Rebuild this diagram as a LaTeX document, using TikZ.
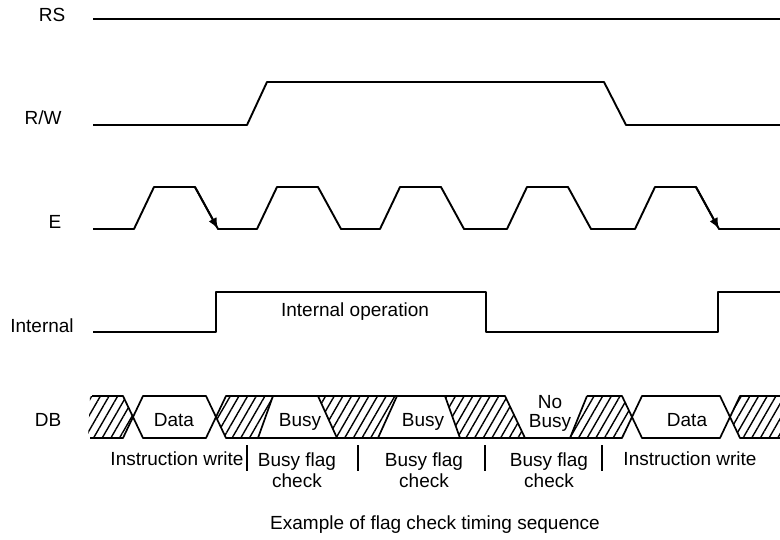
\documentclass[tikz,border=0pt]{standalone}
\usepackage{fontspec}
\setmainfont{Liberation Sans}
\usetikzlibrary{arrows.meta,patterns.meta}
\tikzset{
  sigln/.style={line width=1.9pt, line join=round},
  busln/.style={line width=1.7pt, line join=round},
  hatchfill/.style={pattern={Lines[angle=60,distance=7.5pt,line width=1.4pt]}},
  lbl/.style={font=\fontsize{19}{21}\selectfont, inner sep=0pt},
  sepbar/.style={line width=1.3pt},
  edgearr/.style={-{Latex[length=11pt,width=9pt]}, line width=1.9pt},
}
\newcommand{\hatchcell}[1]{%
  \fill[hatchfill] #1;
}

\begin{document}
\begin{tikzpicture}[x=1pt,y=-1pt]
    \useasboundingbox (0,0) rectangle (780,540);
    % signal names
    \node[lbl, anchor=base] (rs) at (52,22) {RS};
    \node[lbl, anchor=base] (rw) at (43,125) {R/W};
    \node[lbl, anchor=base] (en) at (55,229) {E};
    \node[lbl, anchor=base] (intl) at (42,333) {Internal};
    \node[lbl, anchor=base] (db) at (48,426) {DB};
    % RS and R/W
    \draw[sigln] (93,19) -- (780,19);
    \draw[sigln] (93,125) -- (247,125) -- (267,82) -- (604,82) -- (626,125) -- (780,125);
    % E pulses
    \draw[sigln] (93,229) \foreach \px in {134,257,380,507,635} {
      -- (\px,229) -- (\px+20,187) -- (\px+61,187) -- (\px+84,229) } -- (780,229);
    \draw[edgearr] (195,187) -- (218,229);
    \draw[edgearr] (696,187) -- (719,229);
    % internal operation
    \draw[sigln] (93,332) -- (216,332) -- (216,292) -- (486,292) -- (486,332)
      -- (718,332) -- (718,292) -- (780,292);
    \node[lbl] (iop) at (355,312) {Internal operation};
    % data bus, hatched cells
    \hatchcell{(90,396) -- (123,396) -- (133,417) -- (123,438) -- (88,438) -- cycle}
    \hatchcell{(216,417) -- (226,396) -- (273,396) -- (258,438) -- (226,438) -- cycle}
    \hatchcell{(318,396) -- (397,396) -- (378,438) -- (337,438) -- cycle}
    \hatchcell{(445,396) -- (505,396) -- (525,438) -- (460,438) -- cycle}
    \hatchcell{(570,438) -- (587,396) -- (622,396) -- (632,417) -- (622,438) -- cycle}
    \hatchcell{(730,417) -- (740,396) -- (780,396) -- (780,438) -- (740,438) -- cycle}
    % data bus outline
    \draw[busln] (92,396) -- (123,396) -- (143,438) -- (206,438) -- (226,396) -- (505,396) -- (525,438);
    \draw[busln] (90,438) -- (123,438) -- (143,396) -- (206,396) -- (226,438) -- (622,438) -- (642,396)
      -- (720,396) -- (740,438) -- (780,438);
    \draw[busln] (587,396) -- (622,396) -- (642,438) -- (720,438) -- (740,396) -- (780,396);
    \draw[busln] (258,438) -- (273,396);
    \draw[busln] (318,396) -- (337,438);
    \draw[busln] (378,438) -- (397,396);
    \draw[busln] (445,396) -- (460,438);
    \draw[busln] (570,438) -- (587,396);
    % bus contents
    \node[lbl, anchor=base] (data1) at (174,426) {Data};
    \node[lbl, anchor=base] (busy1) at (300,426) {Busy};
    \node[lbl, anchor=base] (busy2) at (423,426) {Busy};
    \node[lbl, align=center, font=\fontsize{19}{19}\selectfont] (nobusy) at (550,413) {No\\Busy};
    \node[lbl, anchor=base] (data2) at (687,426) {Data};
    % phases
    \node[lbl] (iw1) at (177,459) {Instruction write};
    \node[lbl, align=center] (bf1) at (297,470) {Busy flag\\check};
    \node[lbl, align=center] (bf2) at (424,470) {Busy flag\\check};
    \node[lbl, align=center] (bf3) at (549,470) {Busy flag\\check};
    \node[lbl] (iw2) at (690,459) {Instruction write};
    \foreach \bx in {247,358,485,602}
      \draw[sepbar] (\bx,445) -- (\bx,471);
    \node[lbl] (cap) at (435,525) {Example of flag check timing sequence};
\end{tikzpicture}
\end{document}
